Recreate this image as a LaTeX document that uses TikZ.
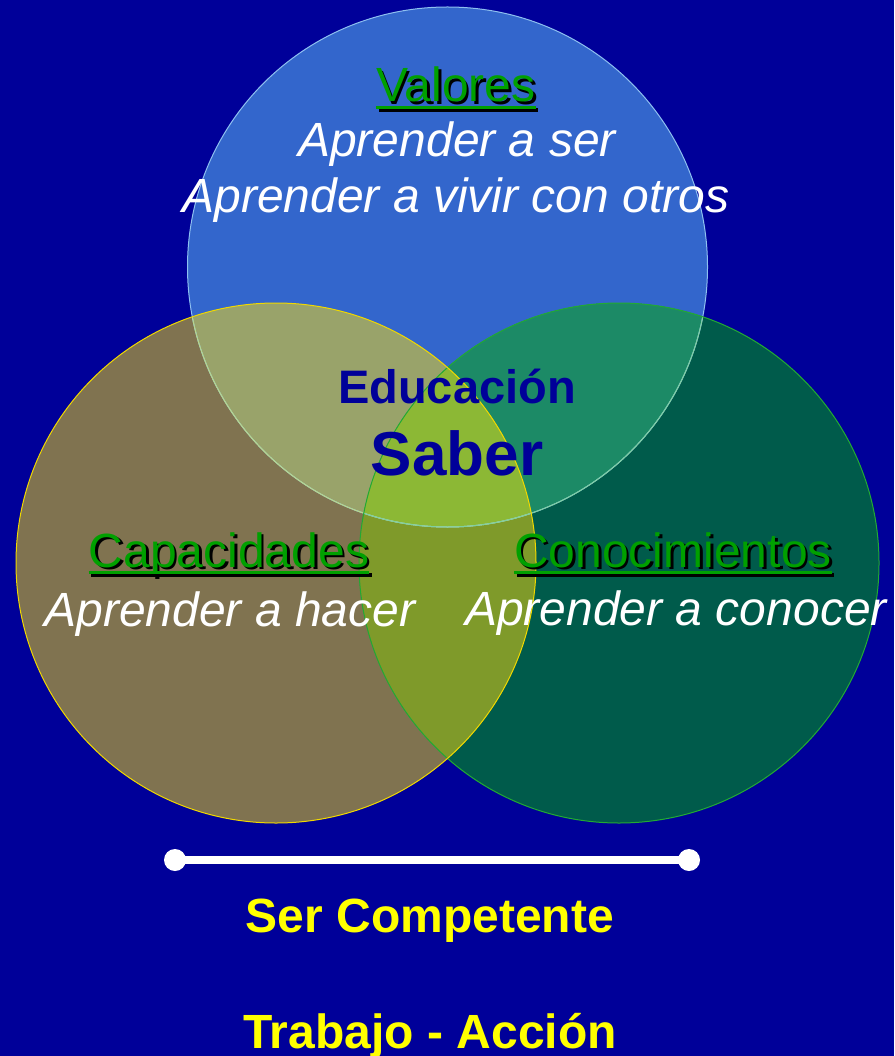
\documentclass[tikz,border=0pt]{standalone}
\usepackage{fontspec}
\setmainfont{Liberation Sans}
\definecolor{bg}{HTML}{000099}
\definecolor{colT}{HTML}{3366CC}
\definecolor{colL}{HTML}{807350}
\definecolor{colR}{HTML}{005B4B}
\definecolor{colTL}{HTML}{99A36A}
\definecolor{colTR}{HTML}{1C8A66}
\definecolor{colLR}{HTML}{7F9A2A}
\definecolor{colC}{HTML}{8CB835}
\definecolor{lineT}{HTML}{8EC0F0}
\definecolor{lineTL}{HTML}{B8D88A}
\definecolor{lineTR}{HTML}{7FD0A0}
\definecolor{lineL}{HTML}{F0D800}
\definecolor{lineR}{HTML}{22AA33}
\definecolor{headgreen}{HTML}{00A000}
\definecolor{navy}{HTML}{000099}
\definecolor{yel}{HTML}{FFFF00}
\newcommand\fsA{\fontsize{48}{56}\selectfont}
\newcommand\fsEdu{\fontsize{47}{55}\selectfont}
\newcommand\fsSab{\fontsize{62}{70}\selectfont}
\begin{document}
\begin{tikzpicture}[x=1pt,y=1pt,
  head/.style={font=\fsA, text=headgreen, inner sep=0pt, anchor=base},
  headshadow/.style={font=\fsA, text=black, inner sep=0pt, anchor=base},
  sub/.style={font=\fsA\itshape, text=white, inner sep=0pt, anchor=base},
  center/.style={inner sep=0pt, anchor=base, text=navy},
  bottomtext/.style={font=\fsA\bfseries, text=yel, inner sep=0pt, anchor=base},
  ul/.style={headgreen, line width=3.5pt},
  ulshadow/.style={black, line width=3.5pt},
  dotend/.style={circle, fill=white, inner sep=0pt, minimum size=22pt},
  bar/.style={white, line width=8pt}]
\fill[bg] (0,0) rectangle (894,-1056);
\useasboundingbox (0,0) rectangle (894,-1056);
\coordinate (T) at (447.5,-267);
\coordinate (L) at (276,-563);
\coordinate (R) at (619,-563);
% region fills
\fill[colT] (T) circle (260);
\fill[colL] (L) circle (260);
\fill[colR] (R) circle (260);
\begin{scope}
  \clip (T) circle (260);
  \fill[colTL] (L) circle (260);
  \fill[colTR] (R) circle (260);
\end{scope}
\begin{scope}
  \clip (L) circle (260);
  \fill[colLR] (R) circle (260);
\end{scope}
\begin{scope}
  \clip (T) circle (260);
  \clip (L) circle (260);
  \fill[colC] (R) circle (260);
\end{scope}
% outlines
\draw[lineT, line width=1pt] (T) circle (260);
\begin{scope}
  \clip (L) circle (260);
  \draw[lineTL, line width=1pt] (T) circle (260);
\end{scope}
\begin{scope}
  \clip (R) circle (260);
  \draw[lineTR, line width=1pt] (T) circle (260);
\end{scope}
\draw[lineR, line width=1pt] (R) circle (260);
\draw[lineL, line width=1pt] (L) circle (260);
% Valores
\node[headshadow] (vs) at (458.5,-104.5) {Valores};
\node[head] (v) at (456,-102) {Valores};
\draw[ulshadow] ([shift={(2.5,-8)}]v.base west) -- ([shift={(2.5,-8)}]v.base east);
\draw[ul] ([yshift=-5.5]v.base west) -- ([yshift=-5.5]v.base east);
\node[sub] (v1) at (457,-157) {Aprender a ser};
\node[sub] (v2) at (456,-213) {Aprender a vivir con otros};
% centre
\node[center, font=\fsEdu\bfseries] (edu) at (457,-403) {Educación};
\node[center, font=\fsSab\bfseries] (sab) at (457,-475) {Saber};
% Capacidades
\node[headshadow] (cs) at (231.5,-569.5) {Capacidades};
\node[head] (c) at (229,-567) {Capacidades};
\draw[ulshadow] ([shift={(2.5,-8)}]c.base west) -- ([shift={(2.5,-8)}]c.base east);
\draw[ul] ([yshift=-5.5]c.base west) -- ([yshift=-5.5]c.base east);
\node[sub] (c1) at (230,-626) {Aprender a hacer};
% Conocimientos
\node[headshadow] (ks) at (675.5,-569.5) {Conocimientos};
\node[head] (k) at (673,-567) {Conocimientos};
\draw[ulshadow] ([shift={(2.5,-8)}]k.base west) -- ([shift={(2.5,-8)}]k.base east);
\draw[ul] ([yshift=-5.5]k.base west) -- ([yshift=-5.5]k.base east);
\node[sub] (k1) at (676,-625) {Aprender a conocer};
% bottom bar
\node[dotend] (d1) at (175,-860) {};
\node[dotend] (d2) at (689,-860) {};
\draw[bar] (d1.center) -- (d2.center);
\node[bottomtext] (sc) at (430,-932) {Ser Competente};
\node[bottomtext] (ta) at (430,-1048) {Trabajo - Acción};
\end{tikzpicture}
\end{document}
